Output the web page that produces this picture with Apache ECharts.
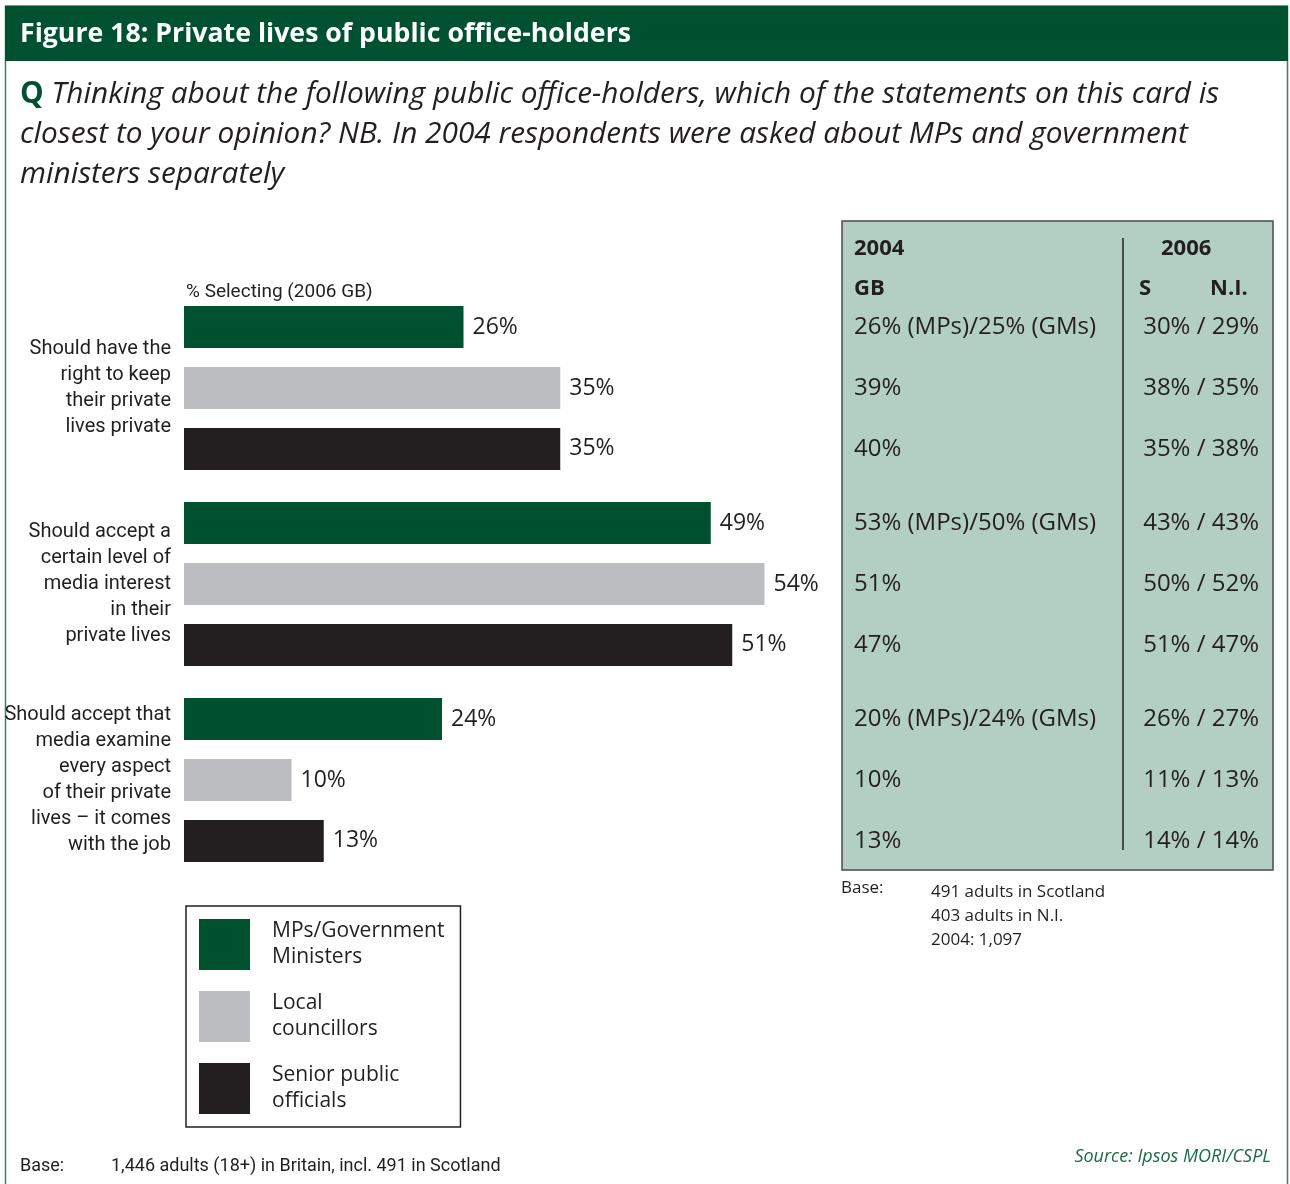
<!DOCTYPE html>
<html>
<head>
<meta charset="utf-8">
<script src="https://cdn.jsdelivr.net/npm/echarts@6/dist/echarts.min.js"></script>
<style>
html,body{margin:0;padding:0;background:#fff;}
#chart{width:1290px;height:1184px;}
</style>
</head>
<body>
<div id="chart"></div>
<script>
// ---------- data ----------
var categories = [
  'Should have the\nright to keep\ntheir private\nlives private',
  'Should accept a\ncertain level of\nmedia interest\nin their\nprivate lives',
  'Should accept that\nmedia examine\nevery aspect\nof their private\nlives \u2013 it comes\nwith the job'
];
var seriesNames = ['MPs/Government Ministers', 'Local councillors', 'Senior public officials'];
var legendLabels = ['MPs/Government\nMinisters', 'Local\ncouncillors', 'Senior public\nofficials'];
var mpsValues = [26, 49, 24];
var councillorValues = [35, 54, 10];
var officialValues = [35, 51, 13];

var gb2004MPs = ['26% (MPs)/25% (GMs)', '53% (MPs)/50% (GMs)', '20% (MPs)/24% (GMs)'];
var gb2004Councillors = ['39%', '51%', '10%'];
var gb2004Officials = ['40%', '47%', '13%'];
var sni2006MPs = ['30% / 29%', '43% / 43%', '26% / 27%'];
var sni2006Councillors = ['38% / 35%', '50% / 52%', '11% / 13%'];
var sni2006Officials = ['35% / 38%', '51% / 47%', '14% / 14%'];

var colors = ['#00512f', '#bcbdc0', '#231f20'];
var TXT = '#231f20';
var NARROW = 'Roboto,"Liberation Sans Narrow",sans-serif';
var SANS = '"Open Sans","Noto Sans",sans-serif';

var chart = echarts.init(document.getElementById('chart'));

var gridTop = 290, gridH = 588;
function catAxis(gi, show) {
  return {
    type: 'category', gridIndex: gi, data: categories, inverse: true,
    axisLine: {show: false}, axisTick: {show: false},
    axisLabel: show ? {
      show: true, margin: 13, align: 'right', fontFamily: NARROW, fontSize: 20,
      lineHeight: 26, color: TXT
    } : {show: false}
  };
}
function valAxis(gi, max) {
  return {
    type: 'value', gridIndex: gi, min: 0, max: max, show: false,
    splitLine: {show: false}
  };
}

var mainData = [mpsValues, councillorValues, officialValues];
var table04 = [gb2004MPs, gb2004Councillors, gb2004Officials];
var table06 = [sni2006MPs, sni2006Councillors, sni2006Officials];

var series = [];
mainData.forEach(function (vals, i) {
  series.push({
    name: seriesNames[i], type: 'bar', xAxisIndex: 0, yAxisIndex: 0,
    data: vals, barWidth: 42, barGap: '45%',
    itemStyle: {color: colors[i]},
    label: {show: true, position: 'right', distance: 9, formatter: '{c}%',
      fontFamily: SANS, fontSize: 23, color: TXT},
    emphasis: {disabled: true}, silent: true, animation: false
  });
});
table04.forEach(function (txts, i) {
  series.push({
    type: 'bar', xAxisIndex: 1, yAxisIndex: 1,
    data: txts.map(function (t) { return {value: 1, text: t}; }),
    barWidth: 42, barGap: '45%',
    itemStyle: {color: 'rgba(0,0,0,0)'},
    label: {show: true, position: 'insideLeft', distance: 12,
      formatter: function (p) { return p.data.text; },
      fontFamily: SANS, fontSize: 24, color: TXT},
    emphasis: {disabled: true}, silent: true, animation: false
  });
});
table06.forEach(function (txts, i) {
  series.push({
    type: 'bar', xAxisIndex: 2, yAxisIndex: 2,
    data: txts.map(function (t) { return {value: 1, text: t}; }),
    barWidth: 42, barGap: '45%',
    itemStyle: {color: 'rgba(0,0,0,0)'},
    label: {show: true, position: 'insideRight', distance: 14,
      formatter: function (p) { return p.data.text; },
      fontFamily: SANS, fontSize: 24, color: TXT},
    emphasis: {disabled: true}, silent: true, animation: false
  });
});

var option = {
  backgroundColor: '#ffffff',
  animation: false,
  grid: [
    {left: 184, width: 645, top: gridTop, height: gridH, containLabel: false, outerBoundsMode: 'none'},
    {left: 842, width: 281, top: gridTop, height: gridH, containLabel: false, outerBoundsMode: 'none'},
    {left: 1123, width: 150, top: gridTop, height: gridH, containLabel: false, outerBoundsMode: 'none'}
  ],
  xAxis: [valAxis(0, 60), valAxis(1, 1), valAxis(2, 1)],
  yAxis: [catAxis(0, true), catAxis(1, false), catAxis(2, false)],
  legend: {
    data: seriesNames, orient: 'vertical', left: 186, top: 906,
    icon: 'rect', itemWidth: 51, itemHeight: 51, itemGap: 11,
    borderColor: TXT, borderWidth: 1.5, padding: [8, 16, 8, 13],
    selectedMode: false,
    formatter: function (name) { return legendLabels[seriesNames.indexOf(name)]; },
    textStyle: {fontFamily: SANS, fontSize: 21, lineHeight: 26, color: TXT, padding: [9, 0, 0, 17]}
  },
  graphic: [
    {type: 'rect', z: -10, shape: {x: 5.5, y: 6, width: 1282, height: 1200},
      style: {fill: 'none', stroke: '#3d7f5e', lineWidth: 1.5}},
    {type: 'rect', z: -5, shape: {x: 5, y: 6, width: 1283, height: 55},
      style: {fill: '#00512f'}},
    {type: 'text', left: 20, top: 21,
      style: {text: 'Figure 18: Private lives of public office-holders', fill: '#ffffff',
        font: 'bold 26.7px ' + SANS}},
    {type: 'text', left: 20, top: 80,
      style: {
        text: '{q|Q }{i|Thinking about the following public office-holders, which of the statements on this card is}\n{i|closest to your opinion? NB. In 2004 respondents were asked about MPs and government}\n{i|ministers separately}',
        rich: {
          q: {fontFamily: SANS, fontWeight: 'bold', fontSize: 29.8, fill: '#00512f', lineHeight: 40},
          i: {fontFamily: SANS, fontStyle: 'italic', fontSize: 29.8, fill: TXT, lineHeight: 40}
        }
      }},
    {type: 'text', left: 186, top: 283,
      style: {text: '% Selecting (2006 GB)', fill: TXT, font: '19px ' + NARROW}},
    // table box
    {type: 'rect', z: -2, shape: {x: 842, y: 221, width: 431, height: 649},
      style: {fill: '#b3cec3', stroke: '#4a4a4a', lineWidth: 1.5}},
    {type: 'line', z: -1, shape: {x1: 1123, y1: 238, x2: 1123, y2: 850},
      style: {stroke: TXT, lineWidth: 1.5}},
    {type: 'text', left: 854, top: 238,
      style: {text: '2004', fill: TXT, font: 'bold 22px ' + SANS}},
    {type: 'text', left: 854, top: 278,
      style: {text: 'GB', fill: TXT, font: 'bold 22px ' + SANS}},
    {type: 'text', left: 1161, top: 238,
      style: {text: '2006', fill: TXT, font: 'bold 22px ' + SANS}},
    {type: 'text', left: 1139, top: 278,
      style: {text: 'S', fill: TXT, font: 'bold 22px ' + SANS}},
    {type: 'text', left: 1210, top: 278,
      style: {text: 'N.I.', fill: TXT, font: 'bold 22px ' + SANS}},
    // right base note
    {type: 'text', left: 841, top: 880,
      style: {text: 'Base:', fill: TXT, font: '17px ' + SANS}},
    {type: 'text', left: 931, top: 880,
      style: {text: '491 adults in Scotland\n403 adults in N.I.\n2004: 1,097', fill: TXT,
        font: '17px ' + SANS, lineHeight: 24}},
    // bottom base note
    {type: 'text', left: 20, top: 1157,
      style: {text: 'Base:', fill: TXT, font: '18px ' + NARROW}},
    {type: 'text', left: 111, top: 1157,
      style: {text: '1,446 adults (18+) in Britain, incl. 491 in Scotland', fill: TXT,
        font: '18px ' + NARROW}},
    {type: 'text', right: 19, top: 1148,
      style: {text: 'Source: Ipsos MORI/CSPL', fill: '#1b6b43',
        font: 'italic 18px ' + SANS}}
  ],
  series: series
};
chart.setOption(option);
</script>
</body>
</html>
